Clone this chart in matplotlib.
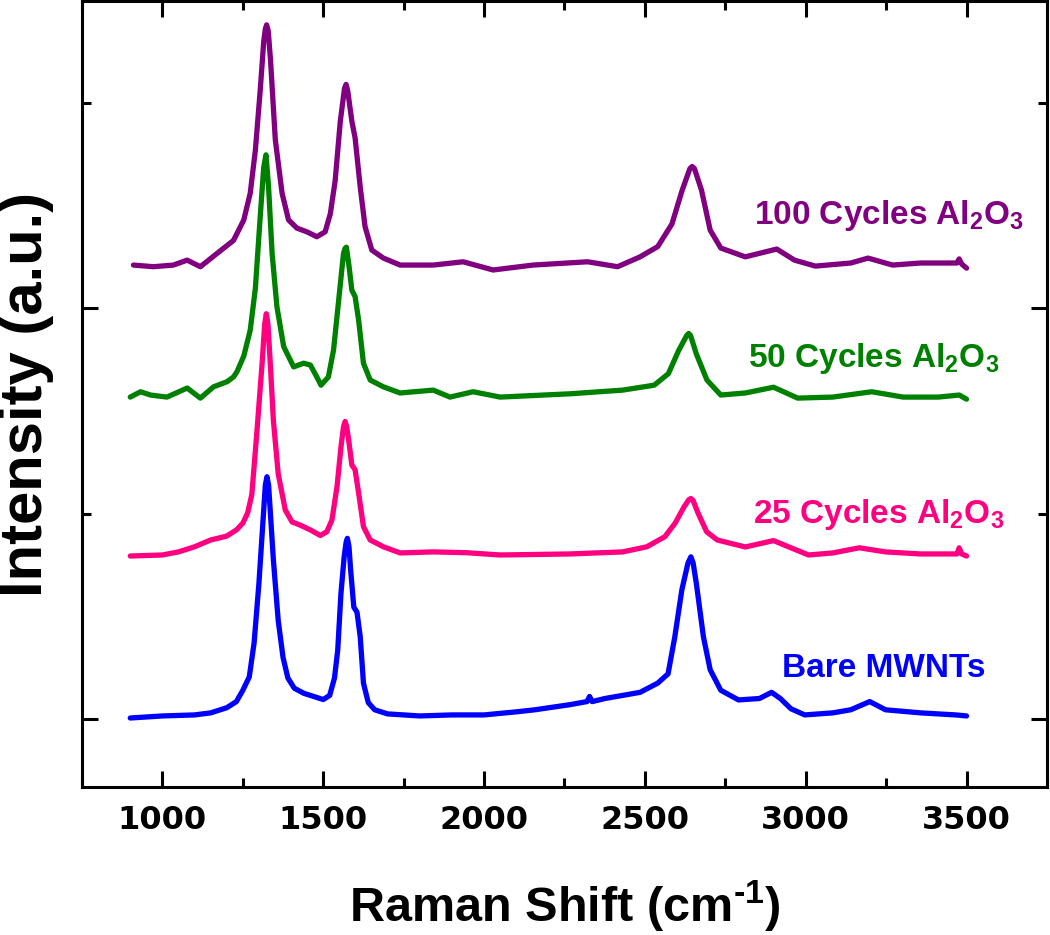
import matplotlib
matplotlib.use('Agg')
import matplotlib.pyplot as plt
from matplotlib.ticker import MultipleLocator, NullFormatter

# Raman shift (cm-1) / intensity, each relative to its own baseline
bare_x = [900, 1000, 1100, 1150, 1200, 1230, 1250, 1270, 1285, 1300, 1315, 1320, 1325, 1330, 1335, 1345,
          1360, 1375, 1390, 1410, 1440, 1470, 1500, 1520, 1535, 1545, 1555, 1565, 1571, 1575, 1580, 1585,
          1595, 1605, 1615, 1625, 1640, 1660, 1700, 1800, 1900, 2000, 2100, 2158, 2267, 2320, 2328, 2336,
          2376, 2485, 2540, 2572, 2593, 2615, 2634, 2643, 2650, 2660, 2682, 2703, 2736, 2791, 2856, 2894,
          2921, 2954, 2997, 3084, 3140, 3199, 3248, 3357, 3466, 3500]
bare_y = [0.005, 0.015, 0.02, 0.03, 0.055, 0.085, 0.14, 0.205, 0.37, 0.66, 1.02, 1.14, 1.18, 1.14, 1.02, 0.775,
          0.48, 0.30, 0.20, 0.15, 0.125, 0.11, 0.095, 0.115, 0.20, 0.335, 0.61, 0.79, 0.86, 0.88, 0.84, 0.73,
          0.545, 0.52, 0.40, 0.175, 0.08, 0.045, 0.025, 0.015, 0.02, 0.02, 0.035, 0.045, 0.07, 0.085, 0.11, 0.085,
          0.10, 0.13, 0.175, 0.22, 0.40, 0.63, 0.76, 0.79, 0.76, 0.66, 0.40, 0.24, 0.14, 0.093, 0.10, 0.13,
          0.10, 0.05, 0.02, 0.03, 0.045, 0.085, 0.045, 0.03, 0.02, 0.015]

c25_x = [900, 1000, 1050, 1100, 1150, 1200, 1230, 1250, 1265, 1278, 1294, 1310, 1318, 1323, 1328, 1336,
         1345, 1360, 1382, 1403, 1429, 1460, 1491, 1511, 1527, 1543, 1555, 1563, 1568, 1573, 1579, 1589,
         1599, 1610, 1625, 1646, 1687, 1739, 1842, 1946, 2050, 2267, 2431, 2506, 2562, 2594, 2622, 2637,
         2643, 2650, 2665, 2692, 2725, 2812, 2900, 2954, 3009, 3084, 3167, 3248, 3357, 3470, 3477, 3485, 3500]
c25_y = [0.0, 0.005, 0.02, 0.045, 0.078, 0.097, 0.127, 0.16, 0.21, 0.30, 0.61, 0.94, 1.13, 1.18, 1.13, 0.92,
         0.66, 0.40, 0.224, 0.166, 0.15, 0.127, 0.10, 0.118, 0.175, 0.34, 0.53, 0.63, 0.655, 0.63, 0.565, 0.443,
         0.42, 0.307, 0.143, 0.078, 0.045, 0.015, 0.02, 0.016, 0.005, 0.01, 0.02, 0.045, 0.094, 0.16, 0.24, 0.275,
         0.28, 0.27, 0.21, 0.118, 0.078, 0.044, 0.075, 0.04, 0.005, 0.015, 0.04, 0.02, 0.01, 0.01, 0.04, 0.01, 0.0]

c50_x = [900, 932, 963, 1014, 1077, 1118, 1159, 1201, 1221, 1232, 1253, 1273, 1289, 1304, 1315,
         1322, 1330, 1341, 1356, 1377, 1408, 1439, 1460, 1480, 1493, 1516, 1532, 1548, 1563, 1568, 1572,
         1580, 1589, 1599, 1610, 1625, 1646, 1687, 1739, 1842, 1894, 1966, 2050, 2267, 2431, 2529, 2573,
         2605, 2630, 2636, 2642, 2660, 2693, 2736, 2812, 2900, 2975, 3084, 3205, 3303, 3412, 3477, 3500]
c50_y = [0.0, 0.026, 0.01, 0.0, 0.044, -0.005, 0.05, 0.075, 0.098, 0.124, 0.20, 0.326, 0.53, 0.878, 1.12,
         1.18, 1.024, 0.70, 0.44, 0.246, 0.147, 0.165, 0.156, 0.098, 0.058, 0.098, 0.229, 0.472, 0.70, 0.725, 0.73,
         0.64, 0.52, 0.49, 0.375, 0.165, 0.083, 0.05, 0.02, 0.034, 0.0, 0.026, 0.0, 0.016, 0.034, 0.058, 0.114,
         0.227, 0.30, 0.31, 0.30, 0.21, 0.083, 0.01, 0.02, 0.048, -0.005, 0.0, 0.026, 0.0, 0.0, 0.01, -0.01]

c100_x = [910, 972, 1034, 1077, 1118, 1170, 1221, 1253, 1273, 1289, 1304, 1315, 1320, 1324, 1329, 1336,
          1351, 1372, 1392, 1418, 1449, 1480, 1506, 1522, 1537, 1553, 1566, 1571, 1576, 1589, 1599, 1615,
          1630, 1651, 1687, 1739, 1842, 1935, 2028, 2152, 2322, 2415, 2485, 2540, 2584, 2616, 2640, 2647,
          2654, 2676, 2703, 2736, 2812, 2910, 2965, 3030, 3140, 3194, 3270, 3357, 3470, 3477, 3485, 3500]
c100_y = [0.0, -0.008, 0.0, 0.024, -0.008, 0.057, 0.12, 0.22, 0.35, 0.56, 0.85, 1.09, 1.15, 1.17, 1.14, 1.0,
          0.61, 0.35, 0.22, 0.18, 0.162, 0.138, 0.162, 0.25, 0.41, 0.70, 0.86, 0.88, 0.85, 0.70, 0.62, 0.38,
          0.187, 0.073, 0.034, 0.0, 0.0, 0.016, -0.024, 0.0, 0.016, -0.008, 0.04, 0.09, 0.20, 0.365, 0.47, 0.48,
          0.47, 0.365, 0.17, 0.083, 0.04, 0.078, 0.024, -0.005, 0.01, 0.034, 0.0, 0.01, 0.01, 0.03, 0.005, -0.015]

labels = ['Bare MWNTs', '25 Cycles Al$_2$O$_3$', '50 Cycles Al$_2$O$_3$', '100 Cycles Al$_2$O$_3$']
offsets = [0.0, 0.794, 1.568, 2.211]
colors = ['#0000ff', '#ff0080', '#008000', '#800080']
label_x = [2925, 2835, 2820, 2838]
label_y = [0.205, 0.955, 1.715, 2.411]

plt.rcParams['mathtext.fontset'] = 'custom'
plt.rcParams['mathtext.rm'] = 'Liberation Sans:bold'
plt.rcParams['mathtext.it'] = 'Liberation Sans:bold'
plt.rcParams['mathtext.bf'] = 'Liberation Sans:bold'

fig = plt.figure(figsize=(10.5, 9.35), dpi=100)
ax = fig.add_axes([0.0781, 0.1583, 0.919, 0.8406])

series = [(bare_x, bare_y), (c25_x, c25_y), (c50_x, c50_y), (c100_x, c100_y)]
for (xs, ys), off, col in zip(series, offsets, colors):
    ax.plot(xs, [v + off for v in ys], '-', color=col, lw=3.8,
            solid_joinstyle='round', solid_capstyle='round')

for txt, lx, ly, col in zip(labels, label_x, label_y, colors):
    ax.text(lx, ly, txt, color=col, fontsize=24, fontweight='bold',
            family='Liberation Sans', va='baseline', ha='left')

ax.set_xlim(750, 3750)
ax.set_ylim(-0.331, 3.497)
ax.xaxis.set_major_locator(MultipleLocator(500))
ax.xaxis.set_minor_locator(MultipleLocator(250))
ax.yaxis.set_major_locator(MultipleLocator(2))
ax.yaxis.set_minor_locator(MultipleLocator(1))
ax.yaxis.set_major_formatter(NullFormatter())

ax.tick_params(which='both', direction='in', top=True, right=True, width=2.2)
ax.tick_params(which='major', length=11.5, pad=13)
ax.tick_params(which='minor', length=6.5)
for lab in ax.get_xticklabels():
    lab.set_family('DejaVu Sans')
    lab.set_fontweight('bold')
    lab.set_fontsize(23)
for sp in ax.spines.values():
    sp.set_linewidth(2.2)

ax.set_xlabel(r'Raman Shift (cm$^{\text{-}1}$)', fontsize=35, fontweight='bold',
              family='Liberation Sans')
ax.xaxis.set_label_coords(0.5, -0.117)
ax.set_ylabel('Intensity (a.u.)', fontsize=43, fontweight='bold', family='Liberation Sans')
ax.yaxis.set_label_coords(-0.029, 0.5)

plt.savefig('out.png', dpi=100)
